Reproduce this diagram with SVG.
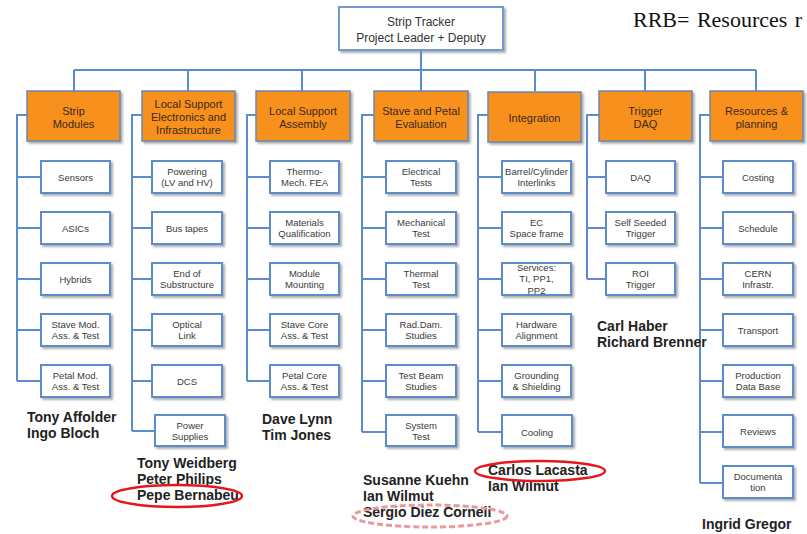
<svg xmlns="http://www.w3.org/2000/svg" width="807" height="534" viewBox="0 0 807 534">
<defs>
<filter id="sh" x="-10%" y="-10%" width="130%" height="140%">
<feDropShadow dx="2" dy="2" stdDeviation="1.2" flood-color="#8a8a8a" flood-opacity="0.7"/>
</filter>
<style>
.sub rect{fill:#fff;stroke:#5b8ccb;stroke-width:2;filter:url(#sh)}
.sub text{font-family:"Liberation Sans",Arial,sans-serif;font-size:9.5px;fill:#3a3a3a;text-anchor:middle}
.org rect{fill:#f7901e;stroke:#6a88b0;stroke-width:1.5;filter:url(#sh)}
.org text{font-family:"Liberation Sans",Arial,sans-serif;font-size:11px;fill:#3a2a1a;text-anchor:middle}
.top rect{fill:#fff;stroke:#6f9ad0;stroke-width:2;filter:url(#sh)}
.top text{font-family:"Liberation Sans",Arial,sans-serif;font-size:12px;fill:#333;text-anchor:middle}
.conn path{fill:none;stroke:#5b8ccb;stroke-width:2}
.nm{font-family:"Liberation Sans",Arial,sans-serif;font-size:14px;font-weight:bold;fill:#222}
</style>
</defs>
<rect width="807" height="534" fill="#fff"/>
<text x="633" y="27" font-family="Liberation Serif,Times New Roman,serif" font-size="22" word-spacing="2" fill="#111">RRB= Resources r</text>

<g class="conn" id="connectors">
<path d="M421 50V70M74 70H756M74 70V91M188 70V91M302 70V91M421 70V91M535 70V91M645 70V91M756 70V91"/>
<path d="M27 115H17V381M17 177H41M17 228H41M17 279H41M17 330H41M17 381H41"/>
<path d="M142 115H132V431M132 177H152M132 228H152M132 279H152M132 330H152M132 381H152M132 431H155"/>
<path d="M256 115H247V381M247 177H270M247 228H270M247 279H270M247 330H270M247 381H270"/>
<path d="M374 115H362V432M362 177H386M362 228H386M362 279H386M362 330H386M362 381H386M362 432H386"/>
<path d="M488 115H478V432M478 177H502M478 228H502M478 279H502M478 330H502M478 381H502M478 432H502"/>
<path d="M599 115H587V279M587 177H606M587 228H606M587 279H606"/>
<path d="M710 115H700V483M700 177H723M700 228H723M700 279H723M700 330H723M700 381H723M700 432H723M700 483H723"/>
</g>

<g id="top" class="top"><rect x="339" y="7" width="164" height="43"/><text x="421" y="26">Strip Tracker</text><text x="421" y="42">Project Leader + Deputy</text></g>

<g id="strip-modules" class="org"><rect x="27" y="91" width="93" height="50"/><text x="73.5" y="115">Strip</text><text x="73.5" y="128">Modules</text></g>
<g id="lse" class="org"><rect x="142" y="91" width="93" height="50"/><text x="188.5" y="108">Local Support</text><text x="188.5" y="121">Electronics and</text><text x="188.5" y="134">Infrastructure</text></g>
<g id="lsa" class="org"><rect x="256" y="91" width="94" height="50"/><text x="303" y="115">Local Support</text><text x="303" y="128">Assembly</text></g>
<g id="spe" class="org"><rect x="374" y="91" width="94" height="50"/><text x="421" y="115">Stave and Petal</text><text x="421" y="128">Evaluation</text></g>
<g id="integration" class="org"><rect x="488" y="92" width="93" height="50"/><text x="534.5" y="122">Integration</text></g>
<g id="trigger" class="org"><rect x="599" y="91" width="93" height="50"/><text x="645.5" y="115">Trigger</text><text x="645.5" y="128">DAQ</text></g>
<g id="resources" class="org"><rect x="710" y="91" width="93" height="50"/><text x="756.5" y="115">Resources &amp;</text><text x="756.5" y="128">planning</text></g>

<g id="sensors" class="sub"><rect x="41" y="161" width="69" height="32"/><text x="75.5" y="180.5">Sensors</text></g>
<g id="asics" class="sub"><rect x="41" y="212" width="69" height="32"/><text x="75.5" y="231.5">ASICs</text></g>
<g id="hybrids" class="sub"><rect x="41" y="263" width="69" height="32"/><text x="75.5" y="282.5">Hybrids</text></g>
<g id="stave-mod" class="sub"><rect x="41" y="314" width="69" height="32"/><text x="75.5" y="328">Stave Mod.</text><text x="75.5" y="339">Ass. &amp; Test</text></g>
<g id="petal-mod" class="sub"><rect x="41" y="365" width="69" height="32"/><text x="75.5" y="379">Petal Mod.</text><text x="75.5" y="390">Ass. &amp; Test</text></g>

<g id="powering" class="sub"><rect x="152" y="161" width="70" height="32"/><text x="187" y="175">Powering</text><text x="187" y="186">(LV and HV)</text></g>
<g id="bus-tapes" class="sub"><rect x="152" y="212" width="70" height="32"/><text x="187" y="231.5">Bus tapes</text></g>
<g id="end-of-sub" class="sub"><rect x="152" y="263" width="70" height="32"/><text x="187" y="277">End of</text><text x="187" y="288">Substructure</text></g>
<g id="optical" class="sub"><rect x="152" y="314" width="70" height="32"/><text x="187" y="328">Optical</text><text x="187" y="339">Link</text></g>
<g id="dcs" class="sub"><rect x="152" y="365" width="70" height="32"/><text x="187" y="384.5">DCS</text></g>
<g id="power-supplies" class="sub"><rect x="155" y="415" width="70" height="31"/><text x="190" y="429">Power</text><text x="190" y="440">Supplies</text></g>

<g id="thermo" class="sub"><rect x="270" y="161" width="69" height="32"/><text x="304.5" y="175">Thermo-</text><text x="304.5" y="186">Mech. FEA</text></g>
<g id="materials" class="sub"><rect x="270" y="212" width="69" height="32"/><text x="304.5" y="226">Materials</text><text x="304.5" y="237">Qualification</text></g>
<g id="module-mounting" class="sub"><rect x="270" y="263" width="69" height="32"/><text x="304.5" y="277">Module</text><text x="304.5" y="288">Mounting</text></g>
<g id="stave-core" class="sub"><rect x="270" y="314" width="69" height="32"/><text x="304.5" y="328">Stave Core</text><text x="304.5" y="339">Ass. &amp; Test</text></g>
<g id="petal-core" class="sub"><rect x="270" y="365" width="69" height="32"/><text x="304.5" y="379">Petal Core</text><text x="304.5" y="390">Ass. &amp; Test</text></g>

<g id="electrical" class="sub"><rect x="386" y="161" width="70" height="32"/><text x="421" y="175">Electrical</text><text x="421" y="186">Tests</text></g>
<g id="mechanical" class="sub"><rect x="386" y="212" width="70" height="32"/><text x="421" y="226">Mechanical</text><text x="421" y="237">Test</text></g>
<g id="thermal" class="sub"><rect x="386" y="263" width="70" height="32"/><text x="421" y="277">Thermal</text><text x="421" y="288">Test</text></g>
<g id="raddam" class="sub"><rect x="386" y="314" width="70" height="32"/><text x="421" y="328">Rad.Dam.</text><text x="421" y="339">Studies</text></g>
<g id="testbeam" class="sub"><rect x="386" y="365" width="70" height="32"/><text x="421" y="379">Test Beam</text><text x="421" y="390">Studies</text></g>
<g id="system-test" class="sub"><rect x="386" y="415" width="70" height="31"/><text x="421" y="429">System</text><text x="421" y="440">Test</text></g>

<g id="barrel" class="sub"><rect x="502" y="161" width="69" height="32"/><text x="536.5" y="175">Barrel/Cylinder</text><text x="536.5" y="186">Interlinks</text></g>
<g id="ec" class="sub"><rect x="502" y="212" width="69" height="32"/><text x="536.5" y="226">EC</text><text x="536.5" y="237">Space frame</text></g>
<g id="services" class="sub"><rect x="502" y="263" width="69" height="32"/><text x="536.5" y="270.5">Services:</text><text x="536.5" y="281.5">TI, PP1,</text><text x="536.5" y="293.5">PP2</text></g>
<g id="hardware" class="sub"><rect x="502" y="314" width="69" height="32"/><text x="536.5" y="328">Hardware</text><text x="536.5" y="339">Alignment</text></g>
<g id="grounding" class="sub"><rect x="502" y="365" width="69" height="32"/><text x="536.5" y="379">Grounding</text><text x="536.5" y="390">&amp; Shielding</text></g>
<g id="cooling" class="sub"><rect x="502" y="415" width="70" height="31"/><text x="537" y="436">Cooling</text></g>

<g id="daq" class="sub"><rect x="606" y="161" width="69" height="32"/><text x="640.5" y="180.5">DAQ</text></g>
<g id="self-seeded" class="sub"><rect x="606" y="212" width="69" height="32"/><text x="640.5" y="226">Self Seeded</text><text x="640.5" y="237">Trigger</text></g>
<g id="roi" class="sub"><rect x="606" y="263" width="69" height="32"/><text x="640.5" y="277">ROI</text><text x="640.5" y="288">Trigger</text></g>

<g id="costing" class="sub"><rect x="723" y="161" width="70" height="32"/><text x="758" y="180.5">Costing</text></g>
<g id="schedule" class="sub"><rect x="723" y="212" width="70" height="32"/><text x="758" y="231.5">Schedule</text></g>
<g id="cern" class="sub"><rect x="723" y="263" width="70" height="32"/><text x="758" y="277">CERN</text><text x="758" y="288">Infrastr.</text></g>
<g id="transport" class="sub"><rect x="723" y="314" width="70" height="32"/><text x="758" y="333.5">Transport</text></g>
<g id="production" class="sub"><rect x="723" y="365" width="70" height="32"/><text x="758" y="379">Production</text><text x="758" y="390">Data Base</text></g>
<g id="reviews" class="sub"><rect x="723" y="415" width="70" height="32"/><text x="758" y="434.5">Reviews</text></g>
<g id="documentation" class="sub"><rect x="723" y="466" width="70" height="32"/><text x="758" y="480">Documenta</text><text x="758" y="491">tion</text></g>

<g id="names">
<text class="nm" x="27" y="422">Tony Affolder</text>
<text class="nm" x="27" y="438">Ingo Bloch</text>
<text class="nm" x="137" y="468">Tony Weidberg</text>
<text class="nm" x="137" y="484">Peter Philips</text>
<text class="nm" x="137" y="500">Pepe Bernabeu</text>
<text class="nm" x="262" y="424">Dave Lynn</text>
<text class="nm" x="262" y="440">Tim Jones</text>
<text class="nm" x="363" y="485">Susanne Kuehn</text>
<text class="nm" x="363" y="501">Ian Wilmut</text>
<text class="nm" x="363" y="517">Sergio Diez Corneli</text>
<text class="nm" x="488" y="475">Carlos Lacasta</text>
<text class="nm" x="488" y="491">Ian Wilmut</text>
<text class="nm" x="597" y="331">Carl Haber</text>
<text class="nm" x="597" y="347">Richard Brenner</text>
<text class="nm" x="702" y="529">Ingrid Gregor</text>
</g>
<g id="highlights" fill="none">
<ellipse cx="177" cy="496" rx="65" ry="11" stroke="#e8151b" stroke-width="2.5"/>
<ellipse cx="540" cy="471" rx="65" ry="10" stroke="#e8151b" stroke-width="2.5"/>
<ellipse cx="430" cy="516" rx="77" ry="11" stroke="#e89a9c" stroke-width="3" stroke-dasharray="6 3"/>
</g>
</svg>
